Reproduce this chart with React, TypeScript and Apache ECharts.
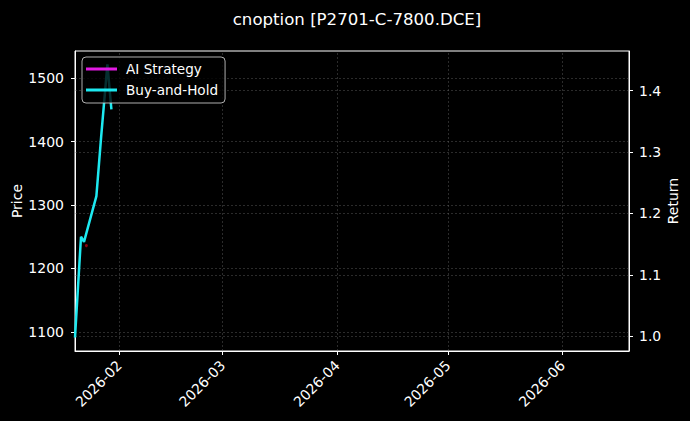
import { useEffect, useRef } from "react";
import * as echarts from "echarts";

// parse "YYYY-MM-DD HH:mm" as local time
const ts = (s: string) => {
  const [d, t] = s.split(" ");
  const [y, m, day] = d.split("-").map(Number);
  const [h, mi] = (t || "00:00").split(":").map(Number);
  return new Date(y, m - 1, day, h, mi).getTime();
};

const chartTitle = "cnoption [P2701-C-7800.DCE]";

const dates = [
  "2026-01-20 00:00",
  "2026-01-21 15:00",
  "2026-01-22 10:30",
  "2026-01-25 19:00",
  "2026-01-27 02:00",
  "2026-01-28 18:30",
  "2026-01-29 20:30"
];
const buyHold = [1091, 1250, 1242, 1314, 1408, 1522, 1451];
const aiStrategy: number[] = [];

const markerDates = ["2026-01-23 02:00"];
const markerPrices = [1236];

const monthTicks = ["2026-02-01", "2026-03-01", "2026-04-01", "2026-05-01", "2026-06-01"];
const priceTicks = [1100, 1200, 1300, 1400, 1500];
const returnTicks = [1.0, 1.1, 1.2, 1.3, 1.4];

const FONT = "DejaVu Sans";
const gridLine = { color: "rgba(120,120,120,0.45)", width: 0.8, type: [2, 2] as number[] };

export default function App() {
  const chartRef = useRef<HTMLDivElement>(null);

  useEffect(() => {
    if (!chartRef.current) return;
    const chart = echarts.init(chartRef.current, null, { renderer: "svg" });

    const monthValues = monthTicks.map(d => ts(d));

    const option: any = {
      animation: false,
      backgroundColor: "#000",
      textStyle: { fontFamily: FONT },
      title: {
        text: chartTitle,
        left: 352,
        textAlign: "center",
        top: 6,
        textStyle: { color: "#fff", fontSize: 16.6, fontWeight: "normal", fontFamily: FONT }
      },
      grid: {
        left: 75,
        right: 61,
        top: 51,
        bottom: 70,
        show: true,
        borderColor: "#fff",
        borderWidth: 1,
        backgroundColor: "transparent",
        outerBoundsMode: "none"
      },
      legend: {
        data: ["AI Strategy", "Buy-and-Hold"],
        orient: "vertical",
        left: 82,
        top: 57,
        padding: [5, 7, 6, 4],
        itemGap: 7,
        itemWidth: 31,
        itemHeight: 3,
        icon: "rect",
        backgroundColor: "rgba(0,0,0,0.8)",
        borderColor: "rgba(204,204,204,0.85)",
        borderWidth: 1,
        borderRadius: 4,
        z: 10,
        textStyle: { color: "#fff", fontSize: 13.6, fontFamily: FONT, padding: [0, 0, 0, 4], lineHeight: 14 }
      },
      xAxis: {
        type: "value",
        min: ts("2026-01-20"),
        max: ts("2026-06-19"),
        axisLine: { show: true, lineStyle: { color: "#fff", width: 1 } },
        axisTick: { show: true, customValues: monthValues, length: 4, lineStyle: { color: "#fff" } },
        axisLabel: {
          customValues: monthValues,
          rotate: 45,
          margin: 12,
          color: "#fff",
          fontSize: 14,
          fontFamily: FONT,
          formatter: (v: number) => {
            const d = new Date(v);
            return `${d.getFullYear()}-${String(d.getMonth() + 1).padStart(2, "0")}`;
          }
        },
        splitLine: { show: false }
      },
      yAxis: [
        {
          type: "value",
          position: "left",
          min: 1069.7,
          max: 1543.1,
          name: "Price",
          nameLocation: "middle",
          nameRotate: 90,
          nameGap: 51,
          nameMoveOverlap: false,
          nameTextStyle: { color: "#fff", fontSize: 14, fontFamily: FONT },
          axisLine: { show: true, lineStyle: { color: "#fff", width: 1 } },
          axisTick: { show: true, customValues: priceTicks, length: 4, lineStyle: { color: "#fff" } },
          axisLabel: {
            customValues: priceTicks,
            margin: 11,
            color: "#fff",
            fontSize: 14,
            fontFamily: FONT,
            formatter: (v: number) => String(v)
          },
          splitLine: { show: false }
        },
        {
          type: "value",
          position: "right",
          min: 0.976,
          max: 1.4646,
          name: "Return",
          nameLocation: "middle",
          nameRotate: 90,
          nameGap: 37,
          nameMoveOverlap: false,
          nameTextStyle: { color: "#fff", fontSize: 14, fontFamily: FONT },
          axisLine: { show: true, lineStyle: { color: "#fff", width: 1 } },
          axisTick: { show: true, customValues: returnTicks, length: 4, lineStyle: { color: "#fff" } },
          axisLabel: {
            customValues: returnTicks,
            margin: 10,
            color: "#fff",
            fontSize: 14,
            fontFamily: FONT,
            formatter: (v: number) => v.toFixed(1)
          },
          splitLine: { show: false }
        }
      ],
      series: [
        {
          name: "gridPrice",
          type: "line",
          yAxisIndex: 0,
          data: [],
          silent: true,
          markLine: {
            silent: true,
            symbol: ["none", "none"],
            label: { show: false },
            lineStyle: gridLine,
            z: 1,
            data: [...monthValues.map(v => ({ xAxis: v })), ...priceTicks.map(v => ({ yAxis: v }))]
          }
        },
        {
          name: "gridReturn",
          type: "line",
          yAxisIndex: 1,
          data: [],
          silent: true,
          markLine: {
            silent: true,
            symbol: ["none", "none"],
            label: { show: false },
            lineStyle: gridLine,
            z: 1,
            data: returnTicks.map(v => ({ yAxis: v }))
          }
        },
        {
          name: "AI Strategy",
          type: "line",
          yAxisIndex: 1,
          color: "#e31ae3",
          showSymbol: false,
          lineStyle: { width: 2.5, color: "#e31ae3" },
          data: aiStrategy
        },
        {
          name: "Buy-and-Hold",
          type: "line",
          yAxisIndex: 0,
          color: "#1de9f0",
          showSymbol: false,
          z: 3,
          lineStyle: { width: 2.5, color: "#1de9f0" },
          data: dates.map((d, i) => [ts(d), buyHold[i]])
        },
        {
          name: "signal",
          type: "scatter",
          yAxisIndex: 0,
          symbolSize: 3,
          itemStyle: { color: "#b00010" },
          data: markerDates.map((d, i) => [ts(d), markerPrices[i]])
        }
      ]
    };

    chart.setOption(option);
    return () => {
      chart.dispose();
    };
  }, []);

  return (
    <div
      ref={chartRef}
      style={{ position: "fixed", left: 0, top: 0, width: 690, height: 421, background: "#000" }}
    />
  );
}
